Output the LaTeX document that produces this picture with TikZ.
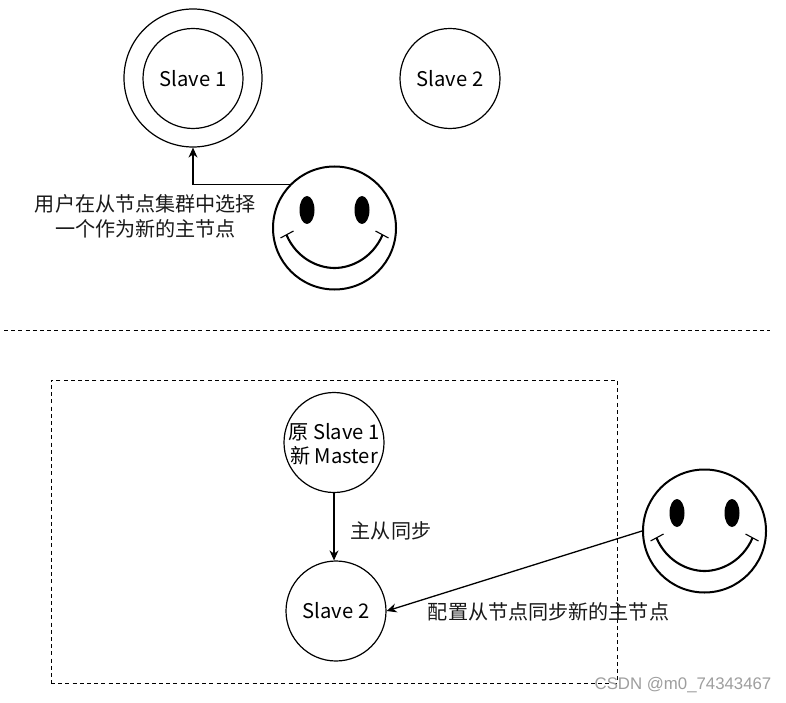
\documentclass[tikz,border=0pt]{standalone}
\usepackage{fontspec}
\setmainfont{Noto Sans CJK SC}
\newfontfamily\wmfont{Liberation Sans}
\usetikzlibrary{arrows.meta}
\tikzset{
  x=1pt,y=-1pt,
  ring/.style={draw=black,line width=1.2pt,circle,inner sep=0pt,align=center,font=\fontsize{20.2}{24.5}\selectfont},
  face/.style={draw=black,line width=2pt,circle,inner sep=0pt,minimum size=123pt},
  lab/.style={inner sep=0pt,align=center,font=\fontsize{20.1}{25}\selectfont,text=black!90},
  conn/.style={draw=black,line width=1.1pt,-{Stealth[length=10pt,width=9pt]}},
  dashline/.style={draw=black,line width=0.9pt,dash pattern=on 4pt off 3.2pt},
}
\newcommand{\smileyface}[3]{%
  \node[face] (#1) at (#2,#3) {};
  \begin{scope}[shift={(#2,#3)}]
    \fill (-27.5,-18) ellipse [x radius=7.5pt,y radius=14pt];
    \fill (27.5,-18) ellipse [x radius=7.5pt,y radius=14pt];
    \draw[line width=2.1pt] (-48,7) .. controls (-38,30) and (-17,40) .. (0,40) .. controls (17,40) and (38,30) .. (48,7);
    \draw[line width=1.1pt] (-54,10) -- (-41,3);
    \draw[line width=1.1pt] (54,10) -- (41,3);
  \end{scope}}
\begin{document}
\begin{tikzpicture}
\useasboundingbox (0,0) rectangle (786,703);
\fill[white] (0,0) rectangle (786,703);
% upper part
\node[ring,minimum size=138pt] (outer) at (193,78) {};
\node[ring,minimum size=100pt] (slaveA) at (193,78.5) {Slave 1};
\node[ring,minimum size=100pt] (slaveB) at (450,78.5) {Slave 2};
\smileyface{smileA}{334.5}{228}
\draw[conn] (smileA.136) -| (outer.south);
\node[lab] (textA) at (145.5,216.5) {用户在从节点集群中选择\\一个作为新的主节点};
% separator
\coordinate (sepL) at (4,330);
\coordinate (sepR) at (770,330);
\draw[dashline] (sepL) -- (sepR);
% lower part
\node[dashline,minimum width=566pt,minimum height=303pt,inner sep=0pt] (frame) at (334,531.5) {};
\node[ring,minimum size=100pt,text depth=0pt] (master) at (334,442.5) {};
\node[inner sep=0pt,align=center,font=\fontsize{20.2}{24.5}\selectfont] (masterText) at (334,444) {原 Slave 1\\新 Master};
\node[ring,minimum size=100pt] (slaveC) at (336,611) {Slave 2};
\draw[conn] (master.south) -- (master.south |- slaveC.north);
\node[lab] (textB) at (391,531) {主从同步};
\smileyface{smileB}{704.5}{531}
\draw[conn,line width=1.3pt] (smileB.180) -- (slaveC.east);
\node[lab] (textC) at (548.5,611.5) {配置从节点同步新的主节点};
\node[inner sep=0pt,text=black!38,font=\wmfont\fontsize{16.8}{20}\selectfont] (mark) at (683,685) {CSDN @m0\_74343467};
\end{tikzpicture}
\end{document}
